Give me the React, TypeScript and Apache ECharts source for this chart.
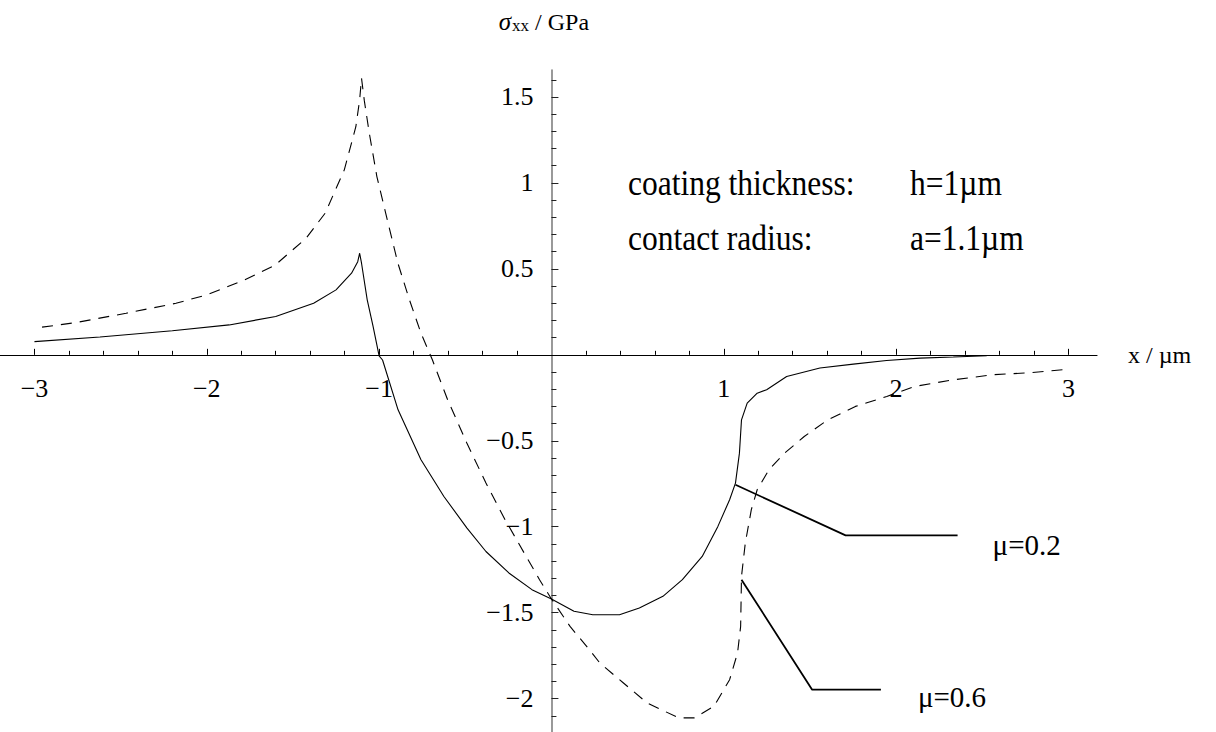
import React, { useEffect, useRef } from "react";
import * as echarts from "echarts";

const FONT = "'Liberation Serif', 'Times New Roman', serif";

// Normal stress sigma_xx along the surface, friction coefficient 0.2 (solid)
const mu02Curve: [number, number][] = [
  [-3.0, 0.077], [-2.62, 0.104], [-2.2, 0.14], [-1.87, 0.174], [-1.6, 0.223],
  [-1.38, 0.3], [-1.25, 0.378], [-1.16, 0.475], [-1.124, 0.542], [-1.113, 0.591],
  [-1.102, 0.533], [-1.069, 0.32], [-1.035, 0.165], [-1.0, -0.006], [-0.98, -0.03],
  [-0.89, -0.32], [-0.757, -0.61], [-0.624, -0.824], [-0.49, -1.008], [-0.38, -1.144],
  [-0.247, -1.269], [-0.113, -1.366], [0, -1.42], [0.131, -1.492], [0.24, -1.512],
  [0.395, -1.512], [0.51, -1.473], [0.647, -1.405], [0.76, -1.308], [0.875, -1.173],
  [0.966, -0.998], [1.034, -0.843], [1.068, -0.746], [1.091, -0.572], [1.103, -0.378],
  [1.136, -0.281], [1.194, -0.223], [1.249, -0.203], [1.365, -0.126], [1.558, -0.077],
  [1.752, -0.054], [1.945, -0.033], [2.139, -0.019], [2.332, -0.013], [2.526, -0.005],
];

// Friction coefficient 0.6 (dashed)
const mu06Curve: [number, number][] = [
  [-2.956, 0.161], [-2.757, 0.188], [-2.468, 0.242], [-2.179, 0.3], [-2.0, 0.349],
  [-1.779, 0.436], [-1.602, 0.523], [-1.424, 0.678], [-1.313, 0.824], [-1.202, 1.076],
  [-1.135, 1.327], [-1.113, 1.483], [-1.102, 1.609], [-1.086, 1.48], [-1.057, 1.29],
  [-1.013, 1.037], [-0.957, 0.804], [-0.891, 0.533], [-0.824, 0.32], [-0.757, 0.126],
  [-0.691, -0.029], [-0.602, -0.262], [-0.491, -0.513], [-0.38, -0.746], [-0.269, -0.959],
  [-0.158, -1.153], [-0.069, -1.308], [0, -1.42], [0.108, -1.58], [0.22, -1.715],
  [0.281, -1.793], [0.418, -1.909], [0.555, -2.025], [0.738, -2.112], [0.829, -2.112],
  [0.943, -2.045], [1.034, -1.89], [1.08, -1.734], [1.098, -1.58], [1.103, -1.289],
  [1.125, -1.095], [1.16, -0.901], [1.194, -0.785], [1.262, -0.669], [1.353, -0.572],
  [1.467, -0.475], [1.604, -0.378], [1.764, -0.3], [1.946, -0.242], [2.106, -0.184],
  [2.334, -0.145], [2.562, -0.116], [2.79, -0.103], [3.006, -0.083],
];

// Leader lines pointing from each curve to its label
const leader02: [number, number][] = [[1.068, -0.756], [1.707, -1.05], [2.357, -1.05]];
const leader06: [number, number][] = [[1.103, -1.308], [1.513, -1.948], [1.912, -1.948]];

const xTickLabels = [-3, -2, -1, 1, 2, 3];
const yTickLabels = [-2, -1.5, -1, -0.5, 0.5, 1, 1.5];

const X_MIN = -3.2;
const X_MAX = 3.166;
const Y_MIN = -2.2;
const Y_MAX = 1.657;

const xMinorTicks: number[] = [];
for (let i = -15; i <= 15; i++) {
  const v = Math.round(i * 2) / 10;
  if (Math.abs(v - Math.round(v)) > 1e-9) xMinorTicks.push(v);
}
const yMinorTicks: number[] = [];
for (let i = -21; i <= 16; i++) {
  const v = i / 10;
  if (Math.abs(v * 2 - Math.round(v * 2)) > 1e-9) yMinorTicks.push(v);
}

const fmt = (v: number) => (v < 0 ? "\u2212" : "") + String(Math.abs(v));

// Plot frame in pixels; the two axes cross at the data origin.
const PLOT_LEFT = 0;
const PLOT_TOP = 70;
const PLOT_W = 1097;
const PLOT_H = 663;
const ORIGIN_X = PLOT_LEFT + (PLOT_W * (0 - X_MIN)) / (X_MAX - X_MIN);
const ORIGIN_Y = PLOT_TOP + (PLOT_H * (Y_MAX - 0)) / (Y_MAX - Y_MIN);

export default function App() {
  const ref = useRef<HTMLDivElement>(null);

  useEffect(() => {
    if (!ref.current) return;
    const chart = echarts.init(ref.current, undefined, { renderer: "svg" });

    const hidden = { type: "value" as const, show: false, splitLine: { show: false } };
    const noSplit = { splitLine: { show: false } };

    const option: any = {
      animation: false,
      backgroundColor: "#fff",
      grid: [
        // curves
        { left: PLOT_LEFT, top: PLOT_TOP, width: PLOT_W, height: PLOT_H, containLabel: false, outerBoundsMode: "none" },
        // horizontal axis, bottom edge on y = 0
        { left: PLOT_LEFT, top: PLOT_TOP, width: PLOT_W, height: ORIGIN_Y - PLOT_TOP, containLabel: false, outerBoundsMode: "none" },
        // vertical axis, left edge on x = 0
        { left: ORIGIN_X, top: PLOT_TOP, width: PLOT_LEFT + PLOT_W - ORIGIN_X, height: PLOT_H, containLabel: false, outerBoundsMode: "none" },
      ],
      xAxis: [
        { ...hidden, gridIndex: 0, min: X_MIN, max: X_MAX },
        {
          type: "value", ...noSplit, gridIndex: 1, min: X_MIN, max: X_MAX, position: "bottom",
          axisLine: { show: true, onZero: false, lineStyle: { color: "#000", width: 1.2 } },
          axisTick: { show: true, inside: true, length: 6, customValues: xTickLabels, lineStyle: { color: "#000", width: 1 } },
          axisLabel: {
            show: true, customValues: xTickLabels, formatter: fmt, margin: 21,
            fontFamily: FONT, fontSize: 26, color: "#000",
          },
          name: "x / \u00b5m",
          nameLocation: "end",
          nameGap: 31,
          nameTextStyle: { fontFamily: FONT, fontSize: 24, color: "#000", verticalAlign: "middle", padding: [6, 0, 0, 0] },
        },
        {
          type: "value", ...noSplit, gridIndex: 1, min: X_MIN, max: X_MAX, position: "bottom",
          axisLine: { show: false, onZero: false },
          axisTick: { show: true, inside: true, length: 4, customValues: xMinorTicks, lineStyle: { color: "#000", width: 1 } },
          axisLabel: { show: false },
        },
        { ...hidden, gridIndex: 2, min: 0, max: X_MAX },
      ],
      yAxis: [
        { ...hidden, gridIndex: 0, min: Y_MIN, max: Y_MAX },
        { ...hidden, gridIndex: 1, min: 0, max: Y_MAX },
        {
          type: "value", ...noSplit, gridIndex: 2, min: Y_MIN, max: Y_MAX, position: "left",
          axisLine: { show: true, onZero: false, lineStyle: { color: "#808080", width: 1.6 } },
          axisTick: { show: true, inside: true, length: 7, customValues: yTickLabels, lineStyle: { color: "#222", width: 1 } },
          axisLabel: {
            show: true, customValues: yTickLabels, formatter: fmt, margin: 18,
            fontFamily: FONT, fontSize: 26, color: "#000",
          },
          name: "{s|\u03c3}{sub|xx}{t| / GPa}",
          nameLocation: "end",
          nameGap: 36,
          nameTextStyle: {
            fontFamily: FONT, fontSize: 24, color: "#000", padding: [0, 15, 0, 0],
            rich: {
              s: { fontFamily: FONT, fontSize: 25, fontStyle: "italic", color: "#000", lineHeight: 30, verticalAlign: "bottom" },
              sub: { fontFamily: FONT, fontSize: 17, color: "#000", lineHeight: 22, verticalAlign: "bottom", padding: [0, 0, 0, 1] },
              t: { fontFamily: FONT, fontSize: 24, color: "#000", lineHeight: 30, verticalAlign: "bottom" },
            },
          },
        },
        {
          type: "value", ...noSplit, gridIndex: 2, min: Y_MIN, max: Y_MAX, position: "left",
          axisLine: { show: false, onZero: false },
          axisTick: { show: true, inside: true, length: 5, customValues: yMinorTicks, lineStyle: { color: "#222", width: 1 } },
          axisLabel: { show: false },
        },
      ],
      series: [
        {
          type: "line", name: "\u03bc=0.2", data: mu02Curve, xAxisIndex: 0, yAxisIndex: 0,
          showSymbol: false, symbol: "none", silent: true,
          lineStyle: { color: "#000", width: 1.1 },
        },
        {
          type: "line", name: "\u03bc=0.6", data: mu06Curve, xAxisIndex: 0, yAxisIndex: 0,
          showSymbol: false, symbol: "none", silent: true,
          lineStyle: { color: "#000", width: 1.1, type: [11, 8] },
        },
        {
          type: "line", data: leader02, xAxisIndex: 0, yAxisIndex: 0,
          showSymbol: false, symbol: "none", silent: true,
          lineStyle: { color: "#000", width: 1.8 },
          endLabel: {
            show: true, formatter: "\u03bc=0.2", distance: 35, offset: [0, 10],
            fontFamily: FONT, fontSize: 29, color: "#000",
          },
        },
        {
          type: "line", data: leader06, xAxisIndex: 0, yAxisIndex: 0,
          showSymbol: false, symbol: "none", silent: true,
          lineStyle: { color: "#000", width: 1.8 },
          endLabel: {
            show: true, formatter: "\u03bc=0.6", distance: 37, offset: [0, 7],
            fontFamily: FONT, fontSize: 29, color: "#000",
          },
        },
      ],
      graphic: [
        { type: "text", x: 628, y: 183, scaleX: 0.9, style: { text: "coating thickness:", fontFamily: FONT, fontSize: 35, fill: "#000", verticalAlign: "middle" } },
        { type: "text", x: 910, y: 183, scaleX: 0.9, style: { text: "h=1\u00b5m", fontFamily: FONT, fontSize: 35, fill: "#000", verticalAlign: "middle" } },
        { type: "text", x: 628, y: 238, scaleX: 0.9, style: { text: "contact radius:", fontFamily: FONT, fontSize: 35, fill: "#000", verticalAlign: "middle" } },
        { type: "text", x: 910, y: 238, scaleX: 0.9, style: { text: "a=1.1\u00b5m", fontFamily: FONT, fontSize: 35, fill: "#000", verticalAlign: "middle" } },
      ],
    };

    chart.setOption(option);
    return () => chart.dispose();
  }, []);

  return (
    <div
      ref={ref}
      style={{ position: "fixed", left: 0, top: 0, width: 1216, height: 732, background: "#fff" }}
    />
  );
}
